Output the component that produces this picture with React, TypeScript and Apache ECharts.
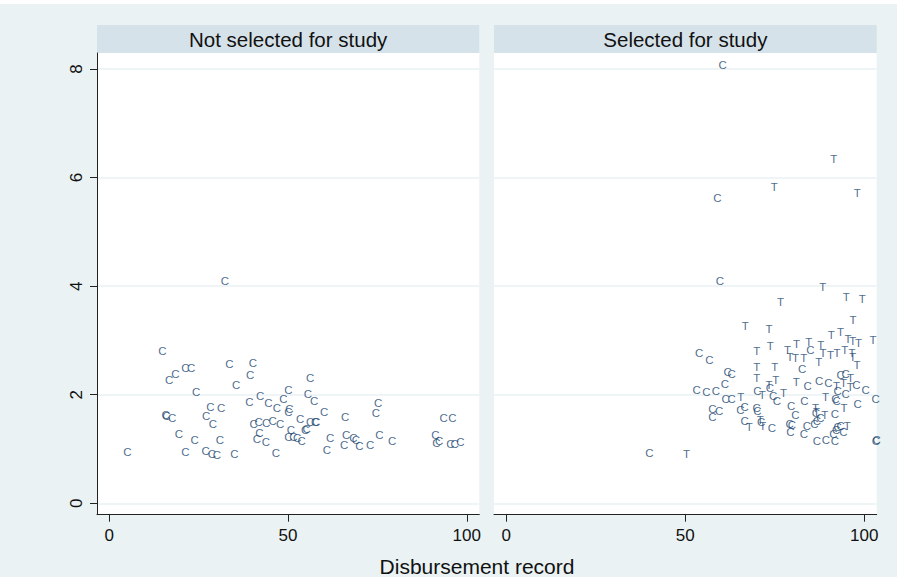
import React, { useEffect, useRef } from "react";
import * as echarts from "echarts";

const panelTitles = ["Not selected for study", "Selected for study"];
const xTitle = "Disbursement record";
const xTicks = [0, 50, 100];
const yTicks = [0, 2, 4, 6, 8];

// Panel 1: not selected for study (all "C")
const notSelectedC: [number, number][] = [
  [14.9, 2.8], [16.8, 2.27], [18.5, 2.38], [21.3, 2.49], [22.9, 2.49], [33.6, 2.57], [40.2, 2.58],
  [39.4, 2.37], [35.5, 2.18], [24.3, 2.05], [56.2, 2.31],
  [15.8, 1.62], [16.0, 1.61], [17.6, 1.57], [28.3, 1.77], [31.3, 1.76], [27.1, 1.61], [29.0, 1.46],
  [19.5, 1.28], [23.9, 1.17], [31.0, 1.17],
  [5.1, 0.94], [21.3, 0.94], [27.0, 0.97], [28.7, 0.91], [30.1, 0.89], [35.0, 0.91], [46.6, 0.93],
  [39.2, 1.86], [42.2, 1.98], [44.5, 1.85], [46.9, 1.76], [48.7, 1.92], [50.1, 2.09], [50.4, 1.74],
  [50.1, 1.68], [55.6, 2.01], [57.3, 1.88], [60.1, 1.68],
  [53.4, 1.55], [56.2, 1.5], [57.6, 1.49], [57.9, 1.5], [66.0, 1.59], [75.2, 1.85], [74.6, 1.66],
  [40.4, 1.47], [41.8, 1.5], [43.9, 1.48], [45.7, 1.52], [47.8, 1.47], [42.0, 1.29], [41.3, 1.18], [43.8, 1.13],
  [50.8, 1.35], [50.1, 1.23], [51.5, 1.23], [52.6, 1.2], [53.8, 1.15], [54.8, 1.35], [55.2, 1.37],
  [61.8, 1.2], [60.9, 0.98], [66.3, 1.25], [65.7, 1.07], [68.3, 1.2], [69.0, 1.17], [70.0, 1.06],
  [73.0, 1.07], [75.6, 1.25], [79.1, 1.15],
  [91.2, 1.26], [91.5, 1.12], [92.3, 1.15], [93.5, 1.57], [96.0, 1.58], [95.4, 1.1], [96.6, 1.1], [98.2, 1.13],
  [32.4, 4.1],
];

// Panel 2: selected for study, "C" markers
const selectedC: [number, number][] = [
  [60.5, 8.07], [59.0, 5.63], [59.7, 4.1], [53.9, 2.77], [56.8, 2.64], [61.9, 2.42], [63.0, 2.38],
  [61.1, 2.2], [53.2, 2.08], [55.9, 2.05], [58.6, 2.06], [61.3, 1.93], [63.0, 1.93], [57.6, 1.74],
  [59.5, 1.7], [57.6, 1.59], [65.4, 1.71], [66.6, 1.78], [70.0, 1.75], [70.2, 1.7], [66.6, 1.52],
  [71.2, 1.5], [74.2, 1.38], [70.2, 2.07], [73.7, 2.12], [74.6, 1.97], [75.6, 1.89], [79.6, 1.8],
  [80.8, 1.63], [79.2, 1.46], [79.8, 1.44], [79.4, 1.32], [83.2, 1.28], [84.0, 1.42], [83.3, 1.89],
  [84.2, 2.17], [87.4, 2.25], [90.0, 2.22], [85.0, 2.82], [82.7, 2.48], [86.1, 1.47], [86.8, 1.52],
  [87.8, 1.57], [92.0, 1.92], [92.3, 1.89], [92.6, 2.06], [94.8, 2.02], [91.8, 1.64], [92.6, 1.4],
  [93.4, 1.43], [92.2, 1.35], [91.4, 1.27], [94.2, 1.32], [86.8, 1.14], [89.3, 1.16], [91.8, 1.15],
  [93.4, 2.37], [94.8, 2.39], [97.8, 2.18], [100.4, 2.08], [98.2, 1.83], [103.2, 1.93], [103.3, 1.15],
  [103.5, 1.16], [40.0, 0.93], [86.5, 1.66],
];

// Panel 2: selected for study, "T" markers
const selectedT: [number, number][] = [
  [91.5, 6.34], [74.9, 5.83], [98.1, 5.72], [88.4, 3.98], [76.6, 3.71], [95.0, 3.8], [99.5, 3.77],
  [96.9, 3.38], [66.8, 3.27], [73.4, 3.21], [90.8, 3.1], [93.4, 3.15], [95.5, 3.02], [96.8, 2.99],
  [98.4, 2.96], [102.5, 3.0], [70.0, 2.81], [73.8, 2.9], [78.6, 2.83], [81.1, 2.94], [84.5, 2.98],
  [87.9, 2.91], [79.3, 2.69], [80.8, 2.67], [83.1, 2.68], [88.5, 2.77], [90.6, 2.74], [92.4, 2.77],
  [94.6, 2.83], [96.6, 2.76], [96.8, 2.7], [87.3, 2.61], [98.0, 2.54], [70.0, 2.51], [75.0, 2.51],
  [70.0, 2.3], [75.3, 2.28], [73.4, 2.18], [81.0, 2.23], [96.2, 2.31], [92.3, 2.16], [94.2, 2.21],
  [96.1, 2.14], [65.5, 1.96], [71.5, 2.0], [77.5, 2.03], [89.2, 1.96], [86.4, 1.75], [86.7, 1.69],
  [89.0, 1.63], [94.4, 1.75], [67.9, 1.4], [71.0, 1.53], [71.7, 1.43], [95.3, 1.42], [50.4, 0.91],
];

const FONT = "'Liberation Sans', Arial, Helvetica, sans-serif";
const NAVY = "#1a476f";
const BG = "#eaf2f3";
const BAND = "#d6e2e9";

const grids = [
  { left: 97, top: 53, width: 382.3, height: 461.7 },
  { left: 494, top: 53, width: 382.7, height: 461.7 },
];

function letterSeries(data: [number, number][], letter: string, idx: number) {
  return {
    type: "scatter",
    xAxisIndex: idx,
    yAxisIndex: idx,
    data,
    symbol: "circle",
    symbolSize: 1,
    silent: true,
    itemStyle: { color: "rgba(0,0,0,0)" },
    label: {
      show: true,
      position: "inside",
      formatter: letter,
      fontSize: 11.5,
      color: NAVY,
      textBorderWidth: 0,
      textBorderColor: "transparent",
      fontFamily: FONT,
    },
    emphasis: { disabled: true },
  };
}

export default function App() {
  const ref = useRef<HTMLDivElement>(null);
  useEffect(() => {
    document.body.style.margin = "0";
    const chart = echarts.init(ref.current!, null, { renderer: "svg" });
    const xAxes = grids.map((_, i) => ({
      type: "value",
      gridIndex: i,
      min: -3.4,
      max: 103.5,
      axisLine: { show: true, onZero: false, lineStyle: { color: "#222", width: 1 } },
      axisTick: { show: true, customValues: xTicks, length: 7, lineStyle: { color: "#222" } },
      axisLabel: { customValues: xTicks, fontSize: 17, color: "#111", margin: 12, fontFamily: FONT },
      splitLine: { show: false },
    }));
    const yAxes = grids.map((_, i) => ({
      type: "value",
      gridIndex: i,
      min: -0.21,
      max: 8.295,
      axisLine: { show: i === 0, onZero: false, lineStyle: { color: "#222", width: 1 } },
      axisTick: { show: i === 0, customValues: yTicks, length: 7, lineStyle: { color: "#222" } },
      axisLabel: {
        show: i === 0,
        customValues: yTicks,
        rotate: 90,
        fontSize: 17,
        color: "#111",
        margin: 12,
        fontFamily: FONT,
      },
      splitLine: { show: true, lineStyle: { color: BG, width: 1.5 } },
    }));
    const graphics: any[] = [
      { type: "rect", z: -100, shape: { x: 0, y: 4, width: 897, height: 573 }, style: { fill: BG }, silent: true },
    ];
    grids.forEach((g, i) => {
      graphics.push({
        type: "rect",
        z: -50,
        shape: { x: g.left, y: 25, width: g.width, height: 28 },
        style: { fill: BAND },
        silent: true,
      });
      graphics.push({
        type: "text",
        z: 10,
        x: g.left + g.width / 2,
        y: 39,
        style: {
          text: panelTitles[i],
          fontSize: 20.5,
          fontFamily: FONT,
          fill: "#111",
          align: "center",
          verticalAlign: "middle",
        },
        silent: true,
      });
    });
    graphics.push({
      type: "text",
      z: 10,
      x: 477,
      y: 566,
      style: {
        text: xTitle,
        fontSize: 21,
        fontFamily: FONT,
        fill: "#111",
        align: "center",
        verticalAlign: "middle",
      },
      silent: true,
    });

    chart.setOption({
      animation: false,
      backgroundColor: "#ffffff",
      grid: grids.map((g) => ({ ...g, show: true, backgroundColor: "#ffffff", borderWidth: 0 })),
      xAxis: xAxes,
      yAxis: yAxes,
      graphic: graphics,
      series: [
        letterSeries(notSelectedC, "C", 0),
        letterSeries(selectedC, "C", 1),
        letterSeries(selectedT, "T", 1),
      ],
    });
    return () => chart.dispose();
  }, []);
  return <div ref={ref} style={{ width: 897, height: 580 }} />;
}
